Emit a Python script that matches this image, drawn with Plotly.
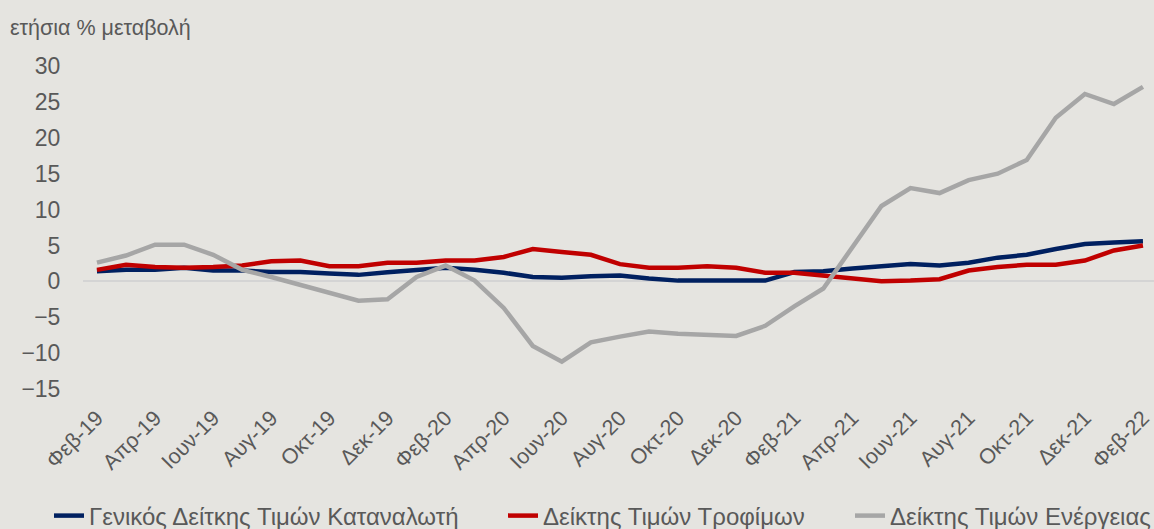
import plotly.graph_objects as go

months = ["Φεβ-19", "Μαρ-19", "Απρ-19", "Μαϊ-19", "Ιουν-19", "Ιουλ-19", "Αυγ-19", "Σεπ-19",
          "Οκτ-19", "Νοε-19", "Δεκ-19", "Ιαν-20", "Φεβ-20", "Μαρ-20", "Απρ-20", "Μαϊ-20",
          "Ιουν-20", "Ιουλ-20", "Αυγ-20", "Σεπ-20", "Οκτ-20", "Νοε-20", "Δεκ-20", "Ιαν-21",
          "Φεβ-21", "Μαρ-21", "Απρ-21", "Μαϊ-21", "Ιουν-21", "Ιουλ-21", "Αυγ-21", "Σεπ-21",
          "Οκτ-21", "Νοε-21", "Δεκ-21", "Ιαν-22", "Φεβ-22"]

cpi = [1.4, 1.6, 1.6, 1.9, 1.5, 1.5, 1.3, 1.3, 1.1, 0.9, 1.25, 1.6, 1.9, 1.6, 1.2, 0.6,
       0.5, 0.7, 0.8, 0.4, 0.1, 0.1, 0.1, 0.1, 1.3, 1.4, 1.8, 2.1, 2.4, 2.2, 2.6, 3.3,
       3.7, 4.5, 5.2, 5.4, 5.6]

food = [1.6, 2.3, 2.0, 1.9, 2.0, 2.2, 2.8, 2.9, 2.1, 2.1, 2.6, 2.6, 2.9, 2.9, 3.4, 4.5,
        4.1, 3.7, 2.4, 1.9, 1.9, 2.1, 1.9, 1.2, 1.2, 0.8, 0.5, 0.0, 0.1, 0.3, 1.5, 2.0,
        2.3, 2.3, 2.9, 4.3, 5.0]

energy = [2.6, 3.6, 5.1, 5.1, 3.7, 1.6, 0.6, -0.5, -1.7, -2.7, -2.5, 0.6, 2.2, 0.1, -3.7, -9.0,
          -11.2, -8.5, -7.7, -7.0, -7.3, -7.4, -7.6, -6.2, -3.5, -1.0, 4.8, 10.5, 13.0, 12.3, 14.1, 15.0,
          16.9, 22.8, 26.1, 24.7, 27.1]

series_names = ["Γενικός Δείτκης Τιμών Καταναλωτή", "Δείκτης Τιμών Τροφίμων", "Δείκτης Τιμών Ενέργειας"]
series_colors = ["#002060", "#c00000", "#a6a6a6"]
y_ticks = [30, 25, 20, 15, 10, 5, 0, -5, -10, -15]
y_title = "ετήσια % μεταβολή"

BG = "#e5e4e0"
TXT = "#595959"
FONT = "Liberation Sans, Arial, sans-serif"

legend_ids = ["legend", "legend2", "legend3"]
legend_x = [49, 503, 850]

fig = go.Figure()
for name, vals, col, lid in zip(series_names, [cpi, food, energy], series_colors, legend_ids):
    fig.add_trace(go.Scatter(x=months, y=vals, mode="lines", name=name, legend=lid,
                             line=dict(color=col, width=4.5)))

legend_common = dict(orientation="h", xanchor="left", xref="container",
                     y=1 - 516 / 529, yanchor="middle", yref="container",
                     font=dict(size=24, color=TXT, family=FONT),
                     bgcolor="rgba(0,0,0,0)")

fig.update_layout(
    width=1154, height=529,
    paper_bgcolor=BG, plot_bgcolor=BG,
    margin=dict(l=83, r=0, t=66, b=140),
    font=dict(family=FONT, color=TXT),
    title=dict(text=y_title, x=10 / 1154, xanchor="left", xref="container",
               y=1 - 27 / 529, yanchor="middle", yref="container",
               font=dict(size=21.5, color=TXT, family=FONT)),
    showlegend=True,
    legend=dict(x=legend_x[0] / 1154, **legend_common),
    legend2=dict(x=legend_x[1] / 1154, **legend_common),
    legend3=dict(x=legend_x[2] / 1154, **legend_common),
    xaxis=dict(type="category", range=[-0.48, 36.38], showgrid=False, zeroline=False,
               showline=False, tickmode="array", tickvals=months[::2], ticktext=months[::2],
               tickangle=-45, tickfont=dict(size=21.5, color=TXT, family=FONT),
               ticks="outside", ticklen=7, tickcolor="rgba(0,0,0,0)"),
    yaxis=dict(range=[-15, 30], tickmode="array", tickvals=y_ticks, showgrid=False,
               zeroline=True, zerolinecolor="#d4d4d4", zerolinewidth=1.5, showline=False,
               tickfont=dict(size=23, color=TXT, family=FONT),
               ticks="outside", ticklen=17, tickcolor="rgba(0,0,0,0)"),
)

fig.write_html("out.html")
